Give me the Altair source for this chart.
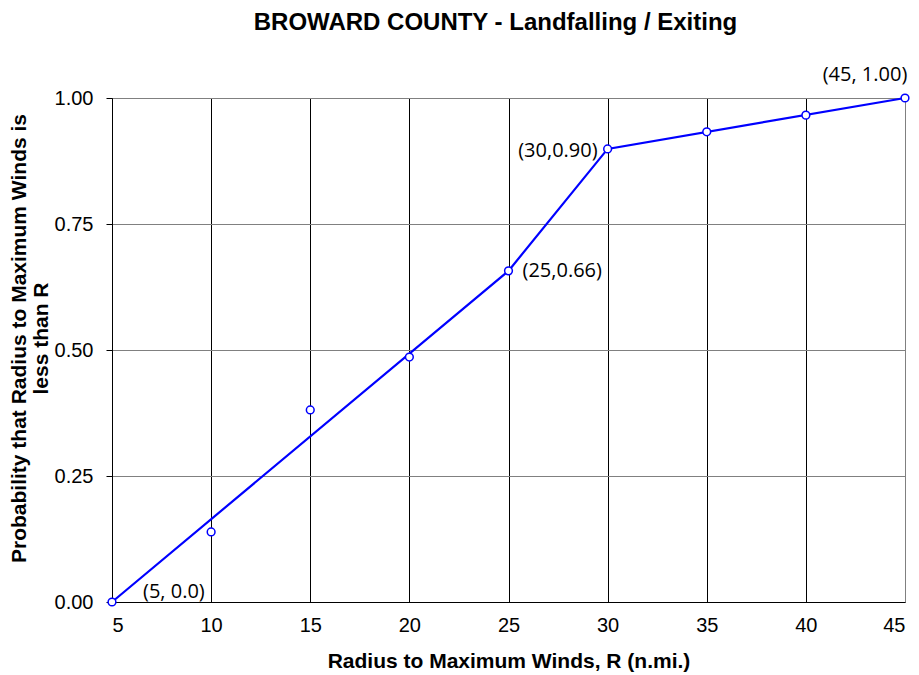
import altair as alt
import pandas as pd

# data
radius = [5, 10, 15, 20, 25, 30, 35, 40, 45]
prob = [0.0, 0.139, 0.381, 0.486, 0.657, 0.899, 0.933, 0.966, 1.0]

fit_radius = [5, 25, 30, 45]
fit_prob = [0.0, 0.657, 0.899, 1.0]

label_radius = [5, 25, 30, 45]
label_prob = [0.0, 0.657, 0.899, 1.0]
label_text = ["(5, 0.0)", "(25,0.66)", "(30,0.90)", "(45, 1.00)"]

pts = pd.DataFrame({"R": radius, "P": prob})
fit = pd.DataFrame({"R": fit_radius, "P": fit_prob})
labs = pd.DataFrame({"R": label_radius, "P": label_prob, "t": label_text})

FONT = "Liberation Sans"
GRAY = "#808080"

xscale = alt.Scale(domain=[5, 45], nice=False, zero=False)
yscale = alt.Scale(domain=[0, 1], nice=False)

xaxis = alt.Axis(
    title="Radius to Maximum Winds, R (n.mi.)",
    values=[5, 10, 15, 20, 25, 30, 35, 40, 45],
    labelFont=FONT, labelFontSize=20, labelColor="black",
    titleFont=FONT, titleFontSize=21, titleFontWeight="bold", titleColor="black",
    ticks=False, labelPadding=13, titlePadding=15,
    domainColor="black", domainWidth=1,
    grid=True,
    gridColor={"condition": {"test": "datum.value == 45", "value": GRAY}, "value": "black"},
    gridWidth=1, gridOpacity=1,
)
yaxis = alt.Axis(
    title=["Probability that Radius to Maximum Winds is", "less than R"],
    values=[0, 0.25, 0.5, 0.75, 1.0], format=".2f",
    labelFont=FONT, labelFontSize=20, labelColor="black",
    titleFont=FONT, titleFontSize=21, titleFontWeight="bold", titleColor="black",
    titleLineHeight=22, titleY=240,
    ticks=True, tickSize=6, tickColor="black", labelPadding=13, titlePadding=3,
    domainColor="black", domainWidth=1,
    grid=True, gridColor=GRAY, gridWidth=1, gridOpacity=1,
)

base_x = alt.X("R:Q", scale=xscale, axis=xaxis)
base_y = alt.Y("P:Q", scale=yscale, axis=yaxis)

line = alt.Chart(fit).mark_line(color="#0000FF", strokeWidth=2.2, clip=False).encode(
    x=base_x, y=base_y
)
points = alt.Chart(pts).mark_point(
    shape="circle", size=60, filled=True, fill="white", stroke="#0000FF",
    strokeWidth=1.5, opacity=1, clip=False
).encode(x="R:Q", y="P:Q")

def lab(i, align, dx, dy):
    return alt.Chart(labs.iloc[[i]]).mark_text(
        align=align, baseline="middle", dx=dx, dy=dy,
        font="Open Sans", fontSize=20, color="black"
    ).encode(x="R:Q", y="P:Q", text="t:N")

labels = [
    lab(0, "left", 31, -10),
    lab(1, "left", 14, 0),
    lab(2, "right", -10, 2),
    lab(3, "center", -40, -23),
]

chart = alt.layer(line, points, *labels).properties(
    width=793, height=504,
    autosize=alt.AutoSizeParams(type="none"),
    padding={"left": 104, "top": 90, "right": 6, "bottom": 72},
    title=alt.TitleParams(
        "BROWARD COUNTY - Landfalling / Exiting",
        font=FONT, fontSize=24, fontWeight="bold", color="black",
        anchor="middle", offset=30, dx=-13,
    ),
).configure_view(stroke=GRAY, strokeWidth=1).configure(background="white")

chart.save("out.html", embed_options={"renderer": "svg", "actions": False})
